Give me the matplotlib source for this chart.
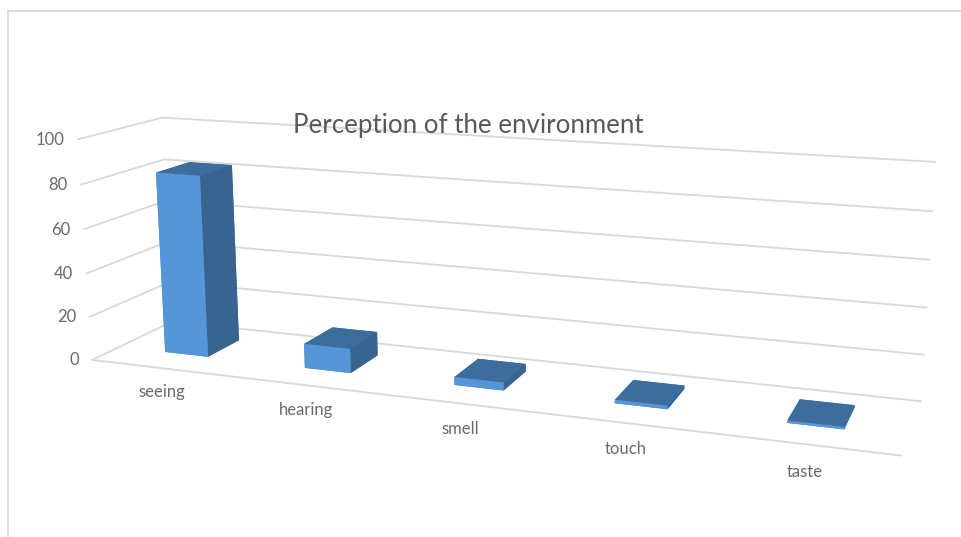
import numpy as np
import matplotlib
matplotlib.use('Agg')
import matplotlib.pyplot as plt
from matplotlib.lines import Line2D

# Chart data
categories = ['seeing', 'hearing', 'smell', 'touch', 'taste']
values = [83, 11, 3.5, 1.5, 1]
ticks = [0, 20, 40, 60, 80, 100]

W, H = 962, 537
GRID = '#d8d8d8'
TEXT = '#6a6a6a'
# -z, +z, -y, +y, -x, +x
FACES = ['#4a86bd', '#3c6d9d', '#5596d8', '#3c6d9d', '#4a86bd', '#38648f']

plt.rcParams['font.family'] = ['Lato', 'DejaVu Sans']

fig = plt.figure(figsize=(W / 100, H / 100), dpi=100)

# Camera fitted against the box corners of the reference
S, cx, cy = 1857.78, 476.0, 271.5
ax = fig.add_axes([(cx - S / 2) / W, 1 - (cy + S / 2) / H, S / W, S / H], projection='3d')
ax.set_axis_off()
ax.computed_zorder = False
ax.patch.set_alpha(0)

n = len(categories)
# Grid on the left side wall and the back wall
for t in ticks:
	ax.plot([0, 0, n], [0, 1, 1], [t, t, t], color=GRID, lw=1.3, zorder=1)
	ax.text(-0.1, 0, t - 0.8, str(t), ha='right', va='center', fontsize=12, color=TEXT)
# Front edge of the floor
ax.plot([0, n], [0, 0], [0, 0], color=GRID, lw=1.3, zorder=1)

# Bars
bar_w, bar_d = 0.3145, 0.4167
xs = np.arange(n) + 0.3409
ys = np.full(n, 0.3254)
ax.bar3d(xs, ys, np.zeros(n), bar_w, bar_d, values, color=FACES * n, shade=False, zorder=2)

for i, name in enumerate(categories):
	ax.text(i + 0.5, 0, -11, name, ha='center', va='center', fontsize=12, color=TEXT)

# Autoscale from the calls above is replaced here
ax.view_init(elev=13.0828, azim=-69.7297, roll=0.1014)
ax.set_proj_type('persp', focal_length=0.1596)
ax.set_box_aspect((1.8644, 0.3539, 0.5254))
ax.set_xlim3d(2.8 - 5, 2.8 + 5)
ax.set_ylim3d(-0.1272 - 1, -0.1272 + 1)
ax.set_zlim3d(69.7937 - 100, 69.7937 + 100)

fig.text(468 / W, 1 - 126 / H, 'Perception of the environment', ha='center', va='center',
	fontsize=18.6, color='#595959')

# Slide frame, top and left
fig.add_artist(Line2D([8 / W, 1], [1 - 11 / H, 1 - 11 / H], color=GRID, lw=1.2))
fig.add_artist(Line2D([8 / W, 8 / W], [0, 1 - 11 / H], color=GRID, lw=1.2))

plt.savefig('out.png', dpi=100)
